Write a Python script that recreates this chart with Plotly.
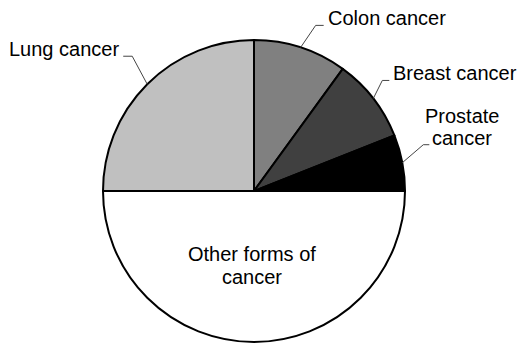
import math
import plotly.graph_objects as go

# Share of cancer cases, clockwise from 12 o'clock
labels = ["Colon cancer", "Breast cancer", "Prostate cancer", "Other forms of cancer", "Lung cancer"]
values = [10, 9, 6, 50, 25]
colors = ["#808080", "#404040", "#000000", "#ffffff", "#c0c0c0"]

# Label text as drawn, one entry per line
label_lines = [["Colon cancer"], ["Breast cancer"], ["Prostate", "cancer"],
               ["Other forms of", "cancer"], ["Lung cancer"]]

W, H = 517, 345
M = dict(l=0, r=9, t=40, b=3)
PW = W - M["l"] - M["r"]
PH = H - M["t"] - M["b"]
CX = M["l"] + PW / 2
CY = M["t"] + PH / 2
R = min(PW, PH) / 2

FONT = "Liberation Sans, Arial, sans-serif"
FS = 20
LINE_GAP = 22
LEADER_COLOR = "#444444"

# Leader styling per slice: (elbow dx, elbow dy, tick length, side) in pixels;
# None means the label sits inside the slice.
leader_style = [
    (15, -22, 8, "right"),
    (9, -18, 7, "right"),
    (21, -18, 6, "center"),
    None,
    (-15, -28, -9, "left"),
]


def px_to_paper(x, y):
    return (x - M["l"]) / PW, 1 - (y - M["t"]) / PH


fig = go.Figure(go.Pie(
    labels=labels,
    values=values,
    sort=False,
    direction="clockwise",
    rotation=0,
    marker=dict(colors=colors, line=dict(color="#000000", width=2)),
    textinfo="none",
    hoverinfo="label+value",
    showlegend=False,
))

shapes = []
annotations = []
total = sum(values)
cum = 0
for i, v in enumerate(values):
    mid = 2 * math.pi * (cum + v / 2) / total
    cum += v
    ex = CX + R * math.sin(mid)
    ey = CY - R * math.cos(mid)
    style = leader_style[i]
    lines = label_lines[i]
    if style is None:
        # label placed inside the slice, partway toward its rim
        tx = ex - 2
        base = CY + 0.45 * R
        for k, line in enumerate(lines):
            bx, by = px_to_paper(tx, base + k * 23 - 5)
            annotations.append(dict(x=bx, y=by, xref="paper", yref="paper", text=line,
                                    showarrow=False, xanchor="center", yanchor="middle",
                                    font=dict(family=FONT, size=FS, color="#000000")))
        continue
    dx, dy, tick, side = style
    elx, ely = ex + dx, ey + dy
    tx = elx + tick
    p0 = px_to_paper(ex, ey)
    p1 = px_to_paper(elx, ely)
    p2 = px_to_paper(tx, ely)
    shapes.append(dict(type="path", xref="paper", yref="paper",
                       path=f"M {p0[0]},{p0[1]} L {p1[0]},{p1[1]} L {p2[0]},{p2[1]}",
                       line=dict(color=LEADER_COLOR, width=1)))
    # baseline of the last line sits on the tick
    n = len(lines)
    for k, line in enumerate(lines):
        base = ely - (n - 1 - k) * LINE_GAP
        if side == "right":
            ax_x, anchor = tx + 2, "left"
        elif side == "left":
            ax_x, anchor = tx - 2, "right"
        else:
            ax_x, anchor = tx + 33, "center"
        bx, by = px_to_paper(ax_x, base - 7)
        annotations.append(dict(x=bx, y=by, xref="paper", yref="paper", text=line,
                                showarrow=False, xanchor=anchor, yanchor="middle",
                                font=dict(family=FONT, size=FS, color="#000000")))

fig.update_layout(
    width=W, height=H,
    margin=M,
    paper_bgcolor="#ffffff",
    plot_bgcolor="#ffffff",
    shapes=shapes,
    annotations=annotations,
)

fig.write_html("out.html")
